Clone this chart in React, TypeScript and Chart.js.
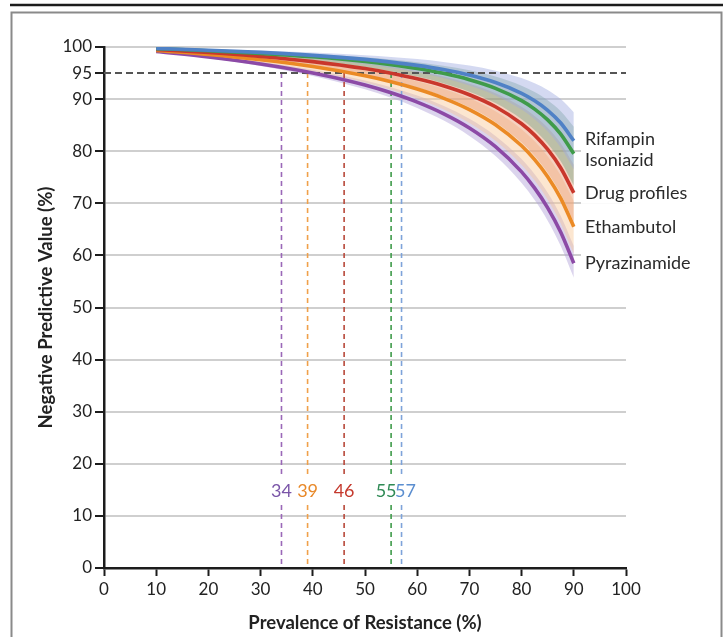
import React, { useEffect, useRef } from 'react';
import { Chart, registerables } from 'chart.js';

Chart.register(...registerables);

// ---- data ----
const prevalence = [10, 20, 30, 40, 50, 55, 60, 65, 70, 75, 80, 82.5, 85, 87.5, 90];

const rifampin = [99.73, 99.39, 98.97, 98.4, 97.62, 97.1, 96.47, 95.67, 94.61, 93.18, 91.11, 89.68, 87.85, 85.41, 82.0];
const rifampinUpper = [99.82, 99.6, 99.32, 98.95, 98.44, 98.1, 97.68, 97.14, 96.43, 95.46, 94.03, 93.04, 91.75, 90.01, 87.5];
const rifampinLower = [99.62, 99.15, 98.56, 97.77, 96.7, 95.99, 95.13, 94.03, 92.62, 90.71, 87.98, 86.13, 83.78, 80.7, 76.5];

const isoniazid = [99.68, 99.29, 98.78, 98.12, 97.21, 96.61, 95.87, 94.94, 93.72, 92.07, 89.7, 88.08, 86.01, 83.27, 79.5];
const isoniazidUpper = [99.78, 99.5, 99.15, 98.68, 98.03, 97.6, 97.07, 96.4, 95.52, 94.32, 92.56, 91.35, 89.78, 87.67, 84.7];
const isoniazidLower = [99.56, 99.01, 98.31, 97.39, 96.14, 95.32, 94.32, 93.06, 91.43, 89.24, 86.15, 84.08, 81.45, 78.05, 73.4];

const drugProfiles = [99.52, 98.93, 98.18, 97.2, 95.86, 94.98, 93.91, 92.57, 90.84, 88.53, 85.27, 83.08, 80.33, 76.78, 72.0];
const drugProfilesUpper = [99.64, 99.2, 98.63, 97.89, 96.86, 96.19, 95.36, 94.32, 92.97, 91.14, 88.53, 86.75, 84.49, 81.51, 77.4];
const drugProfilesLower = [99.38, 98.62, 97.65, 96.39, 94.68, 93.58, 92.23, 90.56, 88.42, 85.58, 81.66, 79.07, 75.86, 71.78, 66.4];

const ethambutol = [99.35, 98.56, 97.55, 96.25, 94.47, 93.33, 91.93, 90.2, 87.99, 85.07, 81.04, 78.38, 75.1, 70.95, 65.5];
const ethambutolUpper = [99.48, 98.84, 98.03, 96.97, 95.53, 94.59, 93.44, 92.0, 90.16, 87.69, 84.23, 81.92, 79.04, 75.32, 70.4];
const ethambutolLower = [99.19, 98.2, 96.96, 95.35, 93.19, 91.8, 90.11, 88.04, 85.42, 82.01, 77.37, 74.36, 70.7, 66.14, 60.3];

const pyrazinamide = [99.13, 98.07, 96.73, 95.01, 92.7, 91.21, 89.43, 87.23, 84.47, 80.88, 76.04, 72.91, 69.13, 64.45, 58.5];
const pyrazinamideUpper = [99.24, 98.31, 97.15, 95.63, 93.58, 92.27, 90.67, 88.71, 86.21, 82.94, 78.48, 75.57, 72.02, 67.57, 61.8];
const pyrazinamideLower = [99.03, 97.84, 96.36, 94.44, 91.89, 90.26, 88.31, 85.92, 82.93, 79.07, 73.91, 70.62, 66.66, 61.81, 55.7];

const seriesNames = ['Rifampin', 'Isoniazid', 'Drug profiles', 'Ethambutol', 'Pyrazinamide'];
const seriesLines = [rifampin, isoniazid, drugProfiles, ethambutol, pyrazinamide];
const seriesUpper = [rifampinUpper, isoniazidUpper, drugProfilesUpper, ethambutolUpper, pyrazinamideUpper];
const seriesLower = [rifampinLower, isoniazidLower, drugProfilesLower, ethambutolLower, pyrazinamideLower];

const thresholdNPV = 95;
const cutoffs = [34, 39, 46, 55, 57];
const cutoffLabelLevel = 15;

const yTickValues = [0, 10, 20, 30, 40, 50, 60, 70, 80, 90, 95, 100];

// ---- styles ----
const lineColors = ['#4f81c6', '#3f9b4a', '#c9372c', '#eb8a25', '#8c4aa6'];
const bandColors = [
  'rgba(160,170,225,0.45)',
  'rgba(110,165,130,0.42)',
  'rgba(232,148,108,0.42)',
  'rgba(248,200,150,0.45)',
  'rgba(175,160,215,0.45)',
];
const labelNudge = [-2, 6, 0, 0, 0];
const cutoffLineColors = ['#9a68b8', '#f0a04a', '#b8483a', '#3f9b4a', '#7ea3da'];
const cutoffTextColors = ['#7a55a8', '#e8892a', '#c53a2e', '#2f8a55', '#5b8ed0'];
const cutoffNudge = [0, 0, 0, -5, 4];

const FONT = 'Lato, "Open Sans", sans-serif';

const pts = (ys: number[]) => prevalence.map((x, i) => ({ x, y: ys[i] }));

export default function App() {
  const ref = useRef<HTMLCanvasElement | null>(null);

  useEffect(() => {
    if (!ref.current) return;

    const datasets: any[] = [];
    seriesLines.forEach((arr, i) => {
      datasets.push({
        label: seriesNames[i],
        data: pts(arr),
        borderColor: lineColors[i],
        borderWidth: 3.6,
        pointRadius: 0,
        fill: false,
        cubicInterpolationMode: 'monotone',
        order: i,
      });
    });
    datasets.push({
      label: 'threshold',
      data: [
        { x: 0, y: thresholdNPV },
        { x: 100, y: thresholdNPV },
      ],
      borderColor: '#555555',
      borderWidth: 2,
      borderDash: [7, 4],
      pointRadius: 0,
      fill: false,
      order: 10,
    });
    cutoffs.forEach((c, i) => {
      datasets.push({
        label: 'cut' + c,
        data: [
          { x: c, y: thresholdNPV },
          { x: c, y: 0 },
        ],
        borderColor: cutoffLineColors[i],
        borderWidth: 1.6,
        borderDash: [5, 4],
        pointRadius: 0,
        fill: false,
        order: 11 + i,
      });
    });
    seriesUpper.forEach((up, i) => {
      datasets.push({
        label: seriesNames[i] + ' upper',
        data: pts(up),
        borderWidth: 0,
        borderColor: 'rgba(0,0,0,0)',
        backgroundColor: bandColors[i],
        pointRadius: 0,
        fill: '+1',
        cubicInterpolationMode: 'monotone',
        order: 20 + i,
      });
      datasets.push({
        label: seriesNames[i] + ' lower',
        data: pts(seriesLower[i]),
        borderWidth: 0,
        borderColor: 'rgba(0,0,0,0)',
        pointRadius: 0,
        fill: false,
        cubicInterpolationMode: 'monotone',
        order: 20 + i,
      });
    });

    const decor = {
      id: 'decor',
      beforeDraw(chart: any) {
        const { ctx, width, height } = chart;
        ctx.save();
        ctx.fillStyle = '#ffffff';
        ctx.fillRect(0, 0, width, height);
        ctx.strokeStyle = '#1c1c1c';
        ctx.lineWidth = 2.5;
        ctx.beginPath();
        ctx.moveTo(10, 5);
        ctx.lineTo(width, 5);
        ctx.stroke();
        ctx.strokeStyle = '#8a8a8a';
        ctx.lineWidth = 2;
        ctx.strokeRect(11.5, 12.5, 710, height + 20);
        ctx.restore();
      },
      afterDatasetsDraw(chart: any) {
        const { ctx } = chart;
        const xs = chart.scales.x;
        const ys = chart.scales.y;
        ctx.save();
        ctx.font = '18px ' + FONT;
        ctx.textBaseline = 'middle';
        ctx.textAlign = 'left';
        seriesNames.forEach((name, i) => {
          const arr = seriesLines[i];
          const py = ys.getPixelForValue(arr[arr.length - 1]) + labelNudge[i];
          ctx.fillStyle = '#ffffff';
          ctx.fillRect(581, py - 11, 120, 22);
        });
        seriesNames.forEach((name, i) => {
          const arr = seriesLines[i];
          const py = ys.getPixelForValue(arr[arr.length - 1]) + labelNudge[i];
          ctx.fillStyle = '#2a2a2a';
          ctx.fillText(name, 585, py);
        });
        ctx.font = '18px ' + FONT;
        ctx.textAlign = 'center';
        const ny = ys.getPixelForValue(cutoffLabelLevel);
        cutoffs.forEach((c, i) => {
          const px = xs.getPixelForValue(c) + cutoffNudge[i];
          const w = ctx.measureText(String(c)).width;
          ctx.fillStyle = '#ffffff';
          ctx.fillRect(px - w / 2 - 1, ny - 13, w + 2, 28);
        });
        cutoffs.forEach((c, i) => {
          const px = xs.getPixelForValue(c) + cutoffNudge[i];
          ctx.fillStyle = cutoffTextColors[i];
          ctx.fillText(String(c), px, ny + 1);
        });
        ctx.restore();
      },
    };

    const chart = new Chart(ref.current, {
      type: 'line',
      data: { datasets },
      plugins: [decor],
      options: {
        animation: false,
        responsive: false,
        events: [],
        layout: { padding: { left: 0, right: 97, top: 47, bottom: 0 } },
        plugins: {
          legend: { display: false },
          tooltip: { enabled: false },
          title: { display: false },
        },
        scales: {
          x: {
            type: 'linear',
            min: 0,
            max: 100,
            ticks: {
              stepSize: 10,
              font: { family: FONT, size: 17 },
              color: '#222',
              padding: 3,
              maxRotation: 0,
            },
            grid: {
              drawOnChartArea: false,
              drawTicks: true,
              tickLength: 8,
              tickColor: '#1c1c1c',
              tickWidth: 2,
            },
            border: { display: true, color: '#1c1c1c', width: 2.5 },
            title: {
              display: true,
              text: 'Prevalence of Resistance (%)',
              font: { family: FONT, size: 18.5, weight: 'bold' },
              color: '#222',
              padding: { top: 0, bottom: 3 },
            },
            afterFit: (s: any) => {
              s.height = 69;
            },
          },
          y: {
            type: 'linear',
            min: 0,
            max: 100,
            afterBuildTicks: (s: any) => {
              s.ticks = yTickValues.map((v) => ({ value: v }));
            },
            ticks: {
              font: { family: FONT, size: 17 },
              color: '#222',
              padding: 3,
              autoSkip: false,
            },
            grid: {
              drawOnChartArea: true,
              color: (ctx: any) =>
                ctx.tick && (ctx.tick.value === 0 || ctx.tick.value === 95) ? 'rgba(0,0,0,0)' : '#cfcfcf',
              lineWidth: 2,
              tickLength: 9,
              tickColor: '#1c1c1c',
              tickWidth: 2,
            },
            border: { display: true, color: '#1c1c1c', width: 2.5 },
            title: {
              display: true,
              text: 'Negative Predictive Value (%)',
              font: { family: FONT, size: 18.5, weight: 'bold' },
              color: '#222',
              padding: { top: 35, bottom: 0 },
            },
            afterFit: (s: any) => {
              s.width = 104;
            },
          },
        },
      },
    } as any);

    return () => chart.destroy();
  }, []);

  return (
    <div style={{ position: 'absolute', left: 0, top: 0, width: 723, height: 637 }}>
      <canvas ref={ref} width={723} height={637} style={{ display: 'block', width: 723, height: 637 }} />
    </div>
  );
}
